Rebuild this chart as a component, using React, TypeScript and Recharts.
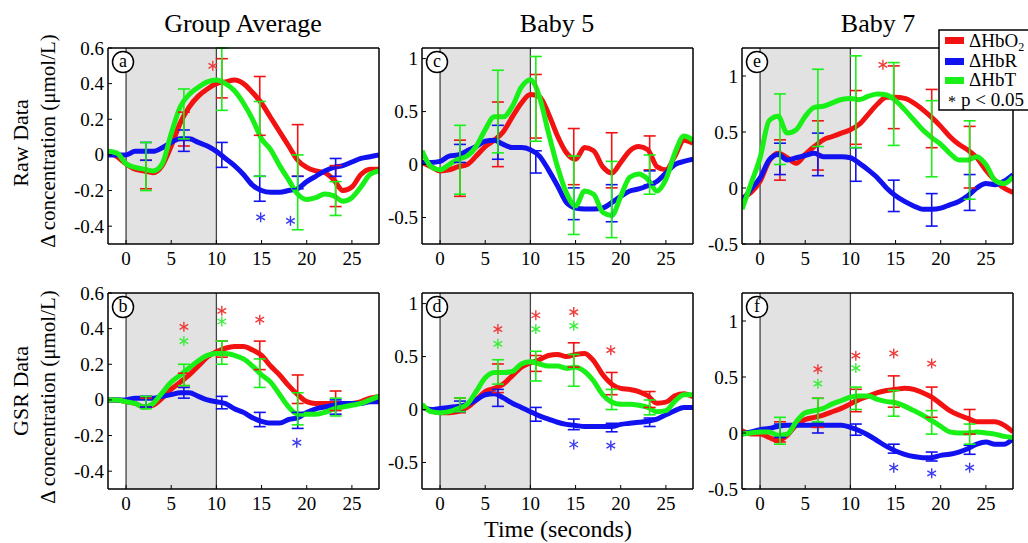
import React from "react";
import { ComposedChart, Line, Scatter, ErrorBar, XAxis, YAxis, ReferenceArea, ReferenceLine } from "recharts";

// time axis (seconds) and error-bar sample times
const TIME = [-2, -1, 0, 1, 2, 3, 4, 5, 6, 7, 8, 9, 10, 11, 12, 13, 14, 15, 16, 17, 18, 19, 20, 21, 22, 23, 24, 25, 26, 27, 28];
const ERR_T = [2.2, 6.4, 10.6, 14.8, 19.0, 23.2];
const X_TICKS = [0, 5, 10, 15, 20, 25];

// (a) Group Average, raw
const aO2 = [0.02, -0.01, -0.05, -0.08, -0.09, -0.1, -0.06, 0.05, 0.18, 0.27, 0.33, 0.37, 0.4, 0.41, 0.42, 0.4, 0.35, 0.29, 0.21, 0.13, 0.05, -0.03, -0.07, -0.09, -0.1, -0.14, -0.2, -0.18, -0.11, -0.08, -0.08];
const aR = [0, 0, 0, 0.02, 0.02, 0.02, 0.04, 0.07, 0.09, 0.09, 0.07, 0.05, 0.02, -0.02, -0.06, -0.11, -0.17, -0.2, -0.21, -0.21, -0.2, -0.19, -0.15, -0.12, -0.09, -0.07, -0.06, -0.04, -0.02, -0.01, 0];
const aT = [0.02, 0.01, -0.05, -0.07, -0.08, -0.09, -0.05, 0.12, 0.27, 0.34, 0.38, 0.41, 0.42, 0.4, 0.36, 0.29, 0.2, 0.09, 0.03, -0.06, -0.14, -0.22, -0.25, -0.24, -0.22, -0.23, -0.26, -0.24, -0.18, -0.11, -0.09];
const aO2Err = [[-0.19, -0.03], [0.05, 0.24], [0.32, 0.54], [0.11, 0.44], [-0.12, 0.17], [-0.29, -0.06]];
const aRErr = [[-0.03, 0.07], [0.02, 0.14], [-0.07, 0.07], [-0.26, -0.12], [-0.19, -0.12], [-0.12, -0.02]];
const aTErr = [[-0.2, 0.07], [0.09, 0.37], [0.25, 0.6], [-0.12, 0.3], [-0.42, 0.0], [-0.34, -0.15]];
const aStarO2 = [[9.6, 0.5]];
const aStarR = [[14.9, -0.35], [18.2, -0.37]];
const aStarT: number[][] = [];

// (b) Group Average, GSR
const bO2 = [0, 0, -0.01, -0.02, -0.04, -0.03, 0.01, 0.06, 0.1, 0.14, 0.19, 0.24, 0.27, 0.29, 0.3, 0.3, 0.28, 0.25, 0.19, 0.14, 0.08, 0.03, -0.01, -0.02, -0.02, -0.02, -0.02, -0.02, -0.01, 0.01, 0.02];
const bR = [0, 0, 0, 0.01, 0.01, 0.01, 0.02, 0.03, 0.04, 0.04, 0.02, 0, -0.01, -0.02, -0.05, -0.07, -0.1, -0.12, -0.13, -0.13, -0.11, -0.1, -0.07, -0.05, -0.04, -0.03, -0.02, -0.02, -0.02, -0.01, -0.01];
const bT = [0, 0, -0.01, -0.02, -0.04, -0.02, 0.04, 0.1, 0.14, 0.18, 0.22, 0.25, 0.26, 0.26, 0.25, 0.23, 0.19, 0.14, 0.1, 0.03, -0.04, -0.08, -0.08, -0.08, -0.07, -0.05, -0.04, -0.03, -0.02, 0, 0.02];
const bO2Err = [[-0.04, 0.01], [0.08, 0.15], [0.24, 0.33], [0.17, 0.33], [-0.02, 0.14], [-0.06, 0.05]];
const bRErr = [[-0.04, 0.02], [0.01, 0.07], [-0.05, 0.02], [-0.15, -0.07], [-0.16, -0.07], [-0.08, 0.0]];
const bTErr = [[-0.05, 0.02], [0.08, 0.2], [0.2, 0.33], [0.07, 0.23], [-0.14, 0.04], [-0.09, 0.01]];
const bStarO2 = [[6.4, 0.41], [10.6, 0.5], [14.8, 0.45]];
const bStarR = [[18.9, -0.24]];
const bStarT = [[6.4, 0.33], [10.6, 0.44]];

// (c) Baby 5, raw
const cO2 = [0.02, -0.02, -0.06, -0.05, -0.02, 0, 0.08, 0.17, 0.23, 0.31, 0.45, 0.58, 0.66, 0.64, 0.48, 0.27, 0.11, 0.05, 0.16, 0.13, -0.02, -0.08, 0.02, 0.13, 0.17, 0.14, -0.02, -0.05, 0.08, 0.23, 0.2];
const cR = [0.02, 0.02, 0.03, 0.08, 0.09, 0.13, 0.17, 0.22, 0.23, 0.19, 0.16, 0.16, 0.14, 0.08, -0.05, -0.2, -0.36, -0.41, -0.42, -0.42, -0.41, -0.36, -0.3, -0.25, -0.23, -0.2, -0.16, -0.08, 0, 0.03, 0.05];
const cT = [0.13, -0.02, -0.05, 0, 0.05, 0.08, 0.17, 0.33, 0.45, 0.45, 0.55, 0.73, 0.8, 0.64, 0.3, -0.02, -0.27, -0.39, -0.25, -0.28, -0.45, -0.48, -0.3, -0.12, -0.09, -0.14, -0.25, -0.14, 0.11, 0.27, 0.23];
const cO2Err = [[-0.3, 0.23], [-0.02, 0.59], [0.25, 0.85], [-0.19, 0.34], [-0.22, 0.3], [-0.05, 0.27]];
const cRErr = [[0.02, 0.19], [0.05, 0.37], [-0.08, 0.13], [-0.52, -0.22], [-0.54, -0.19], [-0.19, -0.06]];
const cTErr = [[-0.28, 0.37], [0.11, 0.89], [0.22, 1.02], [-0.66, 0.08], [-0.69, 0.03], [-0.28, 0.09]];

// (d) Baby 5, GSR
const dO2 = [0.03, -0.01, -0.03, -0.03, -0.02, 0.02, 0.09, 0.17, 0.2, 0.24, 0.32, 0.4, 0.44, 0.47, 0.51, 0.52, 0.5, 0.52, 0.53, 0.46, 0.33, 0.24, 0.2, 0.19, 0.17, 0.13, 0.06, 0.07, 0.13, 0.15, 0.12];
const dR = [0.02, 0, 0.01, 0.02, 0.03, 0.05, 0.09, 0.14, 0.15, 0.11, 0.06, 0.02, -0.02, -0.06, -0.09, -0.12, -0.14, -0.15, -0.16, -0.16, -0.16, -0.16, -0.14, -0.13, -0.12, -0.11, -0.09, -0.05, -0.01, 0.02, 0.02];
const dT = [0.05, -0.02, -0.03, -0.02, 0.01, 0.05, 0.17, 0.3, 0.35, 0.35, 0.36, 0.43, 0.45, 0.43, 0.41, 0.41, 0.39, 0.4, 0.36, 0.27, 0.14, 0.07, 0.05, 0.05, 0.04, 0.02, -0.02, -0.01, 0.08, 0.14, 0.14];
const dO2Err = [[-0.03, 0.11], [0.16, 0.43], [0.36, 0.51], [0.4, 0.63], [0.14, 0.35], [0.02, 0.17]];
const dRErr = [[-0.02, 0.08], [0.03, 0.19], [-0.11, 0.02], [-0.19, -0.09], [-0.21, -0.13], [-0.16, -0.08]];
const dTErr = [[-0.02, 0.11], [0.24, 0.47], [0.27, 0.55], [0.22, 0.52], [0.0, 0.19], [-0.05, 0.09]];
const dStarO2 = [[6.4, 0.76], [10.6, 0.89], [14.8, 0.92], [18.9, 0.56]];
const dStarR = [[14.8, -0.33], [18.9, -0.34]];
const dStarT = [[6.4, 0.62], [10.6, 0.76], [14.8, 0.79]];

// (e) Baby 7, raw
const eO2 = [-0.09, -0.04, 0.06, 0.24, 0.31, 0.27, 0.22, 0.3, 0.37, 0.43, 0.46, 0.49, 0.52, 0.57, 0.66, 0.75, 0.81, 0.81, 0.8, 0.76, 0.7, 0.63, 0.55, 0.46, 0.39, 0.34, 0.27, 0.16, 0.07, 0, -0.04];
const eR = [-0.12, -0.01, 0.09, 0.25, 0.3, 0.25, 0.27, 0.29, 0.31, 0.28, 0.28, 0.28, 0.27, 0.22, 0.16, 0.09, 0, -0.07, -0.12, -0.16, -0.19, -0.19, -0.18, -0.15, -0.12, -0.07, 0, 0.04, 0.03, 0.06, 0.12];
const eT = [-0.19, 0.04, 0.27, 0.6, 0.64, 0.49, 0.52, 0.64, 0.72, 0.73, 0.76, 0.79, 0.8, 0.79, 0.82, 0.84, 0.83, 0.78, 0.7, 0.61, 0.52, 0.45, 0.39, 0.31, 0.25, 0.25, 0.28, 0.21, 0.07, 0.04, 0.1];
const eO2Err = [[0.07, 0.43], [0.16, 0.6], [0.39, 0.87], [0.53, 1.09], [0.36, 0.88], [0.0, 0.55]];
const eRErr = [[0.12, 0.4], [0.11, 0.49], [0.06, 0.36], [-0.21, 0.07], [-0.34, -0.05], [-0.2, 0.12]];
const eTErr = [[0.21, 0.84], [0.37, 1.06], [0.36, 1.18], [0.38, 1.12], [0.1, 0.78], [-0.1, 0.6]];
const eStarO2 = [[13.6, 1.1]];

// (f) Baby 7, GSR
const fO2 = [0.02, -0.01, -0.01, -0.04, -0.07, -0.02, 0.07, 0.12, 0.14, 0.16, 0.19, 0.22, 0.26, 0.3, 0.33, 0.36, 0.38, 0.39, 0.4, 0.39, 0.36, 0.32, 0.26, 0.2, 0.16, 0.13, 0.1, 0.1, 0.1, 0.07, 0.01];
const fR = [-0.01, 0.01, 0.03, 0.04, 0.06, 0.07, 0.07, 0.07, 0.07, 0.07, 0.07, 0.07, 0.05, 0.02, -0.02, -0.07, -0.12, -0.16, -0.19, -0.21, -0.22, -0.22, -0.2, -0.19, -0.17, -0.14, -0.1, -0.08, -0.1, -0.1, -0.05];
const fT = [-0.01, 0, 0.01, 0.01, -0.02, -0.01, 0.1, 0.18, 0.2, 0.22, 0.26, 0.29, 0.32, 0.33, 0.33, 0.3, 0.28, 0.27, 0.24, 0.2, 0.16, 0.11, 0.06, 0.01, 0, 0, 0.01, 0, -0.01, -0.03, -0.04];
const fO2Err = [[-0.08, 0.1], [0.05, 0.31], [0.19, 0.39], [0.23, 0.51], [0.14, 0.41], [-0.01, 0.21]];
const fRErr = [[-0.04, 0.08], [0, 0.09], [-0.02, 0.08], [-0.18, -0.1], [-0.25, -0.17], [-0.19, -0.11]];
const fTErr = [[-0.1, 0.14], [0.1, 0.31], [0.21, 0.41], [0.15, 0.38], [-0.01, 0.2], [-0.1, 0.08]];
const fStarO2 = [[6.4, 0.57], [10.6, 0.69], [14.8, 0.71], [19.0, 0.62]];
const fStarR = [[14.8, -0.31], [19.0, -0.36], [23.2, -0.31]];
const fStarT = [[6.4, 0.44], [10.6, 0.58]];

const GROUP_TICKS = [-0.4, -0.2, 0, 0.2, 0.4, 0.6];
const BABY_TICKS = [-0.5, 0, 0.5, 1];

const RED = "#f21212";
const BLUE = "#1212f0";
const GREEN = "#18f018";
const SERIF = "Liberation Serif, serif";

const PW = 271;
const PH = 196;
const YW = 50;
const XH = 30;
const MT = 9;
const MR = 4;

const noDot = () => <g />;

const starShape = (color: string) => (props: any) => {
  const { cx, cy } = props;
  const r = 5;
  return (
    <g>
      {[0, 60, 120].map((a) => {
        const rad = (a * Math.PI) / 180;
        const dx = r * Math.sin(rad);
        const dy = r * Math.cos(rad);
        return <line key={a} x1={cx - dx} y1={cy - dy} x2={cx + dx} y2={cy + dy} stroke={color} strokeWidth={1.4} />;
      })}
    </g>
  );
};

// tick labels placed at the axis, value from the library's tick payload
const yTick = (p: any) => (
  <text x={YW - 4} y={p.y} dy={6.5} textAnchor="end" fontSize={19} fontFamily={SERIF} fill="#000">
    {String(p.payload.value)}
  </text>
);
const xTick = (p: any) => (
  <text x={p.x} y={MT + 1 + PH + 21} textAnchor="middle" fontSize={19} fontFamily={SERIF} fill="#000">
    {String(p.payload.value)}
  </text>
);

const toErr = (err: number[][]) =>
  ERR_T.map((t, i) => ({ t, y: (err[i][0] + err[i][1]) / 2, e: (err[i][1] - err[i][0]) / 2 }));
const toStars = (s: number[][]) => s.map(([t, y]) => ({ t, y }));

function Panel(props: any) {
  const { left, top, domain, ticks, o2, hbr, hbt, o2Err, hbrErr, hbtErr, starO2 = [], starR = [], starT = [] } = props;
  const data = TIME.map((t, i) => ({ t, o2: o2[i], hbr: hbr[i], hbt: hbt[i] }));
  const axisLine = { stroke: "#000", strokeWidth: 1.5 };
  const tickLine = { stroke: "#000", strokeWidth: 1 };
  const errSeries = [
    { key: "eo2", d: o2Err, c: RED },
    { key: "eh", d: hbrErr, c: BLUE },
    { key: "et", d: hbtErr, c: GREEN },
  ];
  const starSeries = [
    { key: "so2", d: starO2, c: "#f03a3a" },
    { key: "sh", d: starR, c: "#3a3af0" },
    { key: "st", d: starT, c: "#3aee3a" },
  ];
  return (
    <div style={{ position: "absolute", left: left - YW, top: top - MT - 1 }}>
      <ComposedChart width={YW + PW + 1 + MR} height={MT + 1 + PH + XH} data={data} margin={{ top: MT, right: MR, bottom: 0, left: 0 }}>
        <ReferenceArea x1={0} x2={10} fill="#e2e2e2" fillOpacity={1} stroke="none" ifOverflow="hidden" />
        <ReferenceLine x={0} stroke="#444" strokeWidth={1.3} />
        <ReferenceLine x={10} stroke="#444" strokeWidth={1.3} />
        <XAxis dataKey="t" type="number" domain={[-2, 28]} ticks={X_TICKS} allowDataOverflow height={XH} interval={0}
          tickSize={-4} axisLine={axisLine} tickLine={tickLine} tick={xTick} />
        <XAxis xAxisId="top" orientation="top" type="number" domain={[-2, 28]} ticks={X_TICKS} allowDataOverflow height={1}
          interval={0} tickSize={-4} axisLine={axisLine} tickLine={tickLine} tick={false} />
        <YAxis type="number" domain={domain} ticks={ticks} allowDataOverflow width={YW} interval={0}
          tickSize={-4} axisLine={axisLine} tickLine={tickLine} tick={yTick} />
        <YAxis yAxisId="r" orientation="right" type="number" domain={domain} ticks={ticks} allowDataOverflow width={1}
          interval={0} tickSize={-4} axisLine={axisLine} tickLine={tickLine} tick={false} />
        <Line type="monotone" dataKey="o2" stroke={RED} strokeWidth={5} dot={false} isAnimationActive={false} />
        <Line type="monotone" dataKey="hbr" stroke={BLUE} strokeWidth={5} dot={false} isAnimationActive={false} />
        <Line type="monotone" dataKey="hbt" stroke={GREEN} strokeWidth={5} dot={false} isAnimationActive={false} />
        {errSeries.map((s) => (
          <Scatter key={s.key} data={toErr(s.d)} dataKey="y" shape={noDot} isAnimationActive={false} legendType="none">
            <ErrorBar dataKey="e" direction="y" width={6} stroke={s.c} strokeWidth={1.6} isAnimationActive={false} />
          </Scatter>
        ))}
        {starSeries.map((s) =>
          s.d.length ? (
            <Scatter key={s.key} data={toStars(s.d)} dataKey="y" shape={starShape(s.c)} isAnimationActive={false} legendType="none" />
          ) : null
        )}
      </ComposedChart>
    </div>
  );
}

const LEFTS = [108, 422, 742];
const TOPS = [48, 293];
const LETTERS = [
  ["a", "c", "e"],
  ["b", "d", "f"],
];

function Overlay() {
  const f = SERIF;
  return (
    <svg width={1028} height={543} style={{ position: "absolute", left: 0, top: 0, pointerEvents: "none" }}>
      <text x={243} y={32} fontFamily={f} fontSize={26} textAnchor="middle">Group Average</text>
      <text x={557} y={32} fontFamily={f} fontSize={26} textAnchor="middle">Baby 5</text>
      <text x={878} y={32} fontFamily={f} fontSize={26} textAnchor="middle">Baby 7</text>

      <text transform="translate(28,143) rotate(-90)" fontFamily={f} fontSize={22} textAnchor="middle">Raw Data</text>
      <text transform="translate(55,141) rotate(-90)" fontFamily={f} fontSize={21} textAnchor="middle">Δ concentration (μmol/L)</text>
      <text transform="translate(28,391) rotate(-90)" fontFamily={f} fontSize={22} textAnchor="middle">GSR Data</text>
      <text transform="translate(55,397) rotate(-90)" fontFamily={f} fontSize={21} textAnchor="middle">Δ concentration (μmol/L)</text>

      <text x={558} y={537} fontFamily={f} fontSize={24} textAnchor="middle">Time (seconds)</text>

      {TOPS.map((tp, r) =>
        LEFTS.map((lf, c) => (
          <g key={`${r}${c}`}>
            <circle cx={lf + 15} cy={tp + 14} r={10.5} fill="#fff" stroke="#000" strokeWidth={1.5} />
            <text x={lf + 15} y={tp + 19} fontFamily={f} fontSize={18} textAnchor="middle">{LETTERS[r][c]}</text>
          </g>
        ))
      )}

      <rect x={939} y={30} width={95} height={80} fill="#fff" stroke="#000" strokeWidth={1.5} />
      <rect x={945} y={37} width={19} height={7} fill={RED} />
      <rect x={945} y={58} width={19} height={7} fill={BLUE} />
      <rect x={945} y={77} width={19} height={7} fill={GREEN} />
      <text x={969} y={47} fontFamily={f} fontSize={19}>ΔHbO<tspan fontSize={12} dy={4}>2</tspan></text>
      <text x={969} y={67} fontFamily={f} fontSize={19}>ΔHbR</text>
      <text x={969} y={86} fontFamily={f} fontSize={19}>ΔHbT</text>
      <text x={948} y={107} fontFamily={f} fontSize={16}>*</text>
      <text x={961} y={106} fontFamily={f} fontSize={19}>p &lt; 0.05</text>
    </svg>
  );
}

export default function App() {
  return (
    <div style={{ position: "absolute", left: 0, top: 0, width: 1028, height: 543, background: "#fff", fontFamily: SERIF }}>
      <Panel left={LEFTS[0]} top={TOPS[0]} domain={[-0.5, 0.6]} ticks={GROUP_TICKS} o2={aO2} hbr={aR} hbt={aT}
        o2Err={aO2Err} hbrErr={aRErr} hbtErr={aTErr} starO2={aStarO2} starR={aStarR} starT={aStarT} />
      <Panel left={LEFTS[0]} top={TOPS[1]} domain={[-0.5, 0.6]} ticks={GROUP_TICKS} o2={bO2} hbr={bR} hbt={bT}
        o2Err={bO2Err} hbrErr={bRErr} hbtErr={bTErr} starO2={bStarO2} starR={bStarR} starT={bStarT} />
      <Panel left={LEFTS[1]} top={TOPS[0]} domain={[-0.75, 1.1]} ticks={BABY_TICKS} o2={cO2} hbr={cR} hbt={cT}
        o2Err={cO2Err} hbrErr={cRErr} hbtErr={cTErr} />
      <Panel left={LEFTS[1]} top={TOPS[1]} domain={[-0.75, 1.1]} ticks={BABY_TICKS} o2={dO2} hbr={dR} hbt={dT}
        o2Err={dO2Err} hbrErr={dRErr} hbtErr={dTErr} starO2={dStarO2} starR={dStarR} starT={dStarT} />
      <Panel left={LEFTS[2]} top={TOPS[0]} domain={[-0.5, 1.25]} ticks={BABY_TICKS} o2={eO2} hbr={eR} hbt={eT}
        o2Err={eO2Err} hbrErr={eRErr} hbtErr={eTErr} starO2={eStarO2} />
      <Panel left={LEFTS[2]} top={TOPS[1]} domain={[-0.5, 1.25]} ticks={BABY_TICKS} o2={fO2} hbr={fR} hbt={fT}
        o2Err={fO2Err} hbrErr={fRErr} hbtErr={fTErr} starO2={fStarO2} starR={fStarR} starT={fStarT} />
      <Overlay />
    </div>
  );
}
